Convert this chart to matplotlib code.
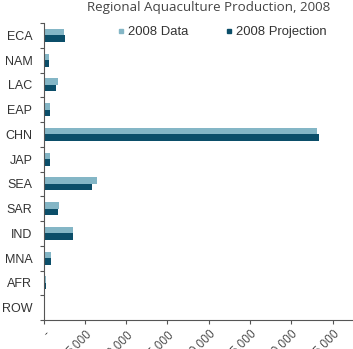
import numpy as np
import matplotlib
matplotlib.use('Agg')
import matplotlib.pyplot as plt
from matplotlib.lines import Line2D
from matplotlib.ticker import FuncFormatter, MultipleLocator

# datos
regiones = ['ECA', 'NAM', 'LAC', 'EAP', 'CHN', 'JAP', 'SEA', 'SAR', 'IND', 'MNA', 'AFR', 'ROW']
datos_2008 = [2510, 660, 1790, 820, 33120, 790, 6430, 1870, 3600, 940, 270, 60]
proyeccion_2008 = [2560, 660, 1550, 820, 33360, 790, 5900, 1790, 3530, 940, 270, 40]
series = ['2008 Data', '2008 Projection']
colores = ['#84b6c6', '#0b4e69']

W, H = 353, 349
fig = plt.figure(figsize=(W / 100, H / 100), dpi=100)
# ejes: el eje x sigue mas alla del borde (recortado como en el original)
ax = fig.add_axes([43.5 / W, (H - 320) / H, 330.5 / W, (320 - 23) / H])

y = np.arange(len(regiones))
h = 0.265
ax.barh(y - h / 2, datos_2008, height=h, color=colores[0])
ax.barh(y + h / 2, proyeccion_2008, height=h, color=colores[1])

ax.set_ylim(len(regiones) - 0.5, -0.5)
ax.set_xlim(0, 40000)

# etiquetas de regiones centradas, marcas en los bordes
ax.set_yticks(y)
ax.set_yticklabels(regiones, family='Liberation Sans', fontsize=9, color='#333333')
ax.tick_params(axis='y', which='major', length=0, pad=8)
ax.set_yticks(np.arange(len(regiones) + 1) - 0.5, minor=True)
ax.tick_params(axis='y', which='minor', length=3, width=0.8, color='#555555')

ax.xaxis.set_major_locator(MultipleLocator(5000))
ax.xaxis.set_major_formatter(FuncFormatter(lambda v, p: '-' if v == 0 else f'{v:,.0f}'))
ax.tick_params(axis='x', length=3, width=0.8, color='#555555', labelsize=8.5, labelcolor='#444444', pad=2)
for t in ax.get_xticklabels():
    t.set_rotation(45)
    t.set_ha('right')
    t.set_rotation_mode('anchor')
    t.set_family('Open Sans')

for s in ['top', 'right']:
    ax.spines[s].set_visible(False)
for s in ['left', 'bottom']:
    ax.spines[s].set_color('#555555')
    ax.spines[s].set_linewidth(0.8)

fig.text(209 / W, 1 - 8 / H, 'Regional Aquaculture Production, 2008', ha='center', va='center',
         family='Open Sans', fontsize=9.6, color='#444444')

handles = [Line2D([], [], marker='s', linestyle='none', markersize=3.5, color=c) for c in colores]
fig.legend(handles, series, loc='center left', bbox_to_anchor=(103 / W, 1 - 32 / H), ncol=2,
           frameon=False, handletextpad=0.05, columnspacing=2.6, handlelength=1.0,
           prop={'family': 'Liberation Sans', 'size': 9.4}, labelcolor='#333333')

fig.savefig('out.png', dpi=100)
